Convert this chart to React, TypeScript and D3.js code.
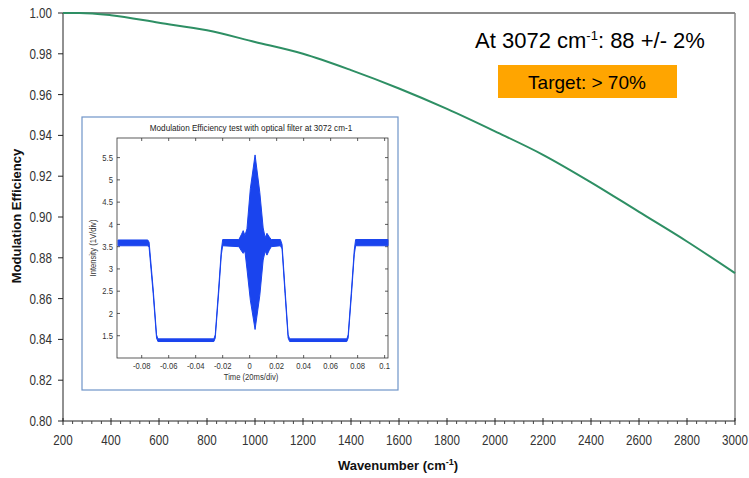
import React from 'react';
import * as d3 from 'd3';

// main curve: modulation efficiency vs wavenumber
const wavenumbers = [200, 270, 400, 600, 800, 1000, 1200, 1400, 1600, 1800, 2000, 2200, 2400, 2600, 2800, 3000];
const efficiency = [1.0, 1.0, 0.9989, 0.9952, 0.9915, 0.9858, 0.98, 0.972, 0.963, 0.953, 0.942, 0.9305, 0.917, 0.9025, 0.888, 0.8725];
const xTicks = [200, 400, 600, 800, 1000, 1200, 1400, 1600, 1800, 2000, 2200, 2400, 2600, 2800, 3000];
const yTicks = [0.8, 0.82, 0.84, 0.86, 0.88, 0.9, 0.92, 0.94, 0.96, 0.98, 1.0];

// inset: interferogram envelope (time, upper, lower)
const insetTime = [-0.0975, -0.0755, -0.0745, -0.0715, -0.069, -0.068, -0.0265, -0.0255, -0.023, -0.021, -0.02,
  -0.008, -0.006, -0.0048, -0.0035, -0.002, 0.0005, 0.004, 0.0075, 0.01, 0.0115, 0.0128, 0.0145, 0.016,
  0.0228, 0.024, 0.0262, 0.0285, 0.0296, 0.072, 0.073, 0.0755, 0.0775, 0.0785, 0.1025];
const insetUpper = [3.65, 3.65, 3.6, 2.55, 1.52, 1.43, 1.43, 1.52, 2.55, 3.42, 3.66,
  3.66, 3.78, 3.86, 3.75, 3.9, 4.8, 5.56, 4.72, 3.92, 3.7, 3.8, 3.72, 3.66,
  3.66, 3.55, 2.55, 1.52, 1.43, 1.43, 1.52, 2.55, 3.42, 3.66, 3.66];
const insetLower = [3.52, 3.52, 3.48, 2.45, 1.45, 1.37, 1.37, 1.45, 2.45, 3.32, 3.52,
  3.5, 3.4, 3.35, 3.4, 3.0, 2.3, 1.64, 2.4, 3.2, 3.4, 3.31, 3.42, 3.5,
  3.52, 3.45, 2.45, 1.45, 1.37, 1.37, 1.45, 2.45, 3.32, 3.52, 3.52];
const insetXTicks = [-0.08, -0.06, -0.04, -0.02, 0, 0.02, 0.04, 0.06, 0.08, 0.1];
const insetYTicks = [1.5, 2, 2.5, 3, 3.5, 4, 4.5, 5, 5.5];

const W = 749;
const H = 478;
const sans = '"Liberation Sans", Arial, Helvetica, sans-serif';

// condensed look of the original tick labels (no narrow font installed)
const Narrow = ({ x, y, anchor = 'middle', size = 14, sx = 0.83, fill = '#333', weight = 'normal', dy = '0', children }: any) => (
  <text transform={`translate(${x},${y}) scale(${sx},1)`} dy={dy} textAnchor={anchor} fontFamily={sans}
    fontSize={size} fontWeight={weight} fill={fill}>{children}</text>
);

export default function App() {
  const x = d3.scaleLinear().domain([200, 3000]).range([63, 735]);
  const y = d3.scaleLinear().domain([0.8, 1.0]).range([421, 13]);
  const line = d3.line<number>().x((d, i) => x(wavenumbers[i])).y(d => y(d)).curve(d3.curveMonotoneX);
  const minorTicks = d3.range(200, 3001, 40).filter(v => v % 200 !== 0);

  // inset geometry
  const ix = d3.scaleLinear().domain([-0.0983, 0.1025]).range([117, 388]);
  const iy = d3.scaleLinear().domain([1.0, 5.94]).range([358, 138]);
  const area = d3.area<number>()
    .x((d, i) => ix(insetTime[i]))
    .y0((d, i) => iy(insetLower[i]))
    .y1(d => iy(d));

  return (
    <svg width={W} height={H} style={{ position: 'absolute', left: 0, top: 0, background: '#fff' }}>
      {/* frame */}
      <line x1={63} x2={735} y1={13} y2={13} stroke="#666" strokeWidth={1.5} />
      <line x1={735} x2={735} y1={13} y2={421} stroke="#888" strokeWidth={1.5} />
      <line x1={63} x2={63} y1={13} y2={421} stroke="#222" strokeWidth={1} />
      <line x1={63} x2={735} y1={421} y2={421} stroke="#222" strokeWidth={1} />

      {/* y axis */}
      {yTicks.map(t => (
        <g key={t}>
          <line x1={58} x2={63} y1={y(t)} y2={y(t)} stroke="#222" />
          <Narrow x={52} y={y(t)} dy="0.35em" anchor="end">{t.toFixed(2)}</Narrow>
        </g>
      ))}
      {/* x axis */}
      {minorTicks.map(t => (
        <line key={t} x1={x(t)} x2={x(t)} y1={421} y2={424} stroke="#444" />
      ))}
      {xTicks.map(t => (
        <g key={t}>
          <line x1={x(t)} x2={x(t)} y1={418} y2={425} stroke="#222" />
          <Narrow x={x(t)} y={445}>{t}</Narrow>
        </g>
      ))}
      <text x={398} y={470} textAnchor="middle" fontFamily={sans} fontSize={13} fontWeight="bold" fill="#111">
        Wavenumber (cm<tspan dy={-5} fontSize={9}>-1</tspan><tspan dy={5}>)</tspan>
      </text>
      <text transform="translate(21,216) rotate(-90)" textAnchor="middle" fontFamily={sans} fontSize={13}
        fontWeight="bold" fill="#111">Modulation Efficiency</text>

      {/* curve */}
      <path d={line(efficiency) || ''} fill="none" stroke="#2e8f64" strokeWidth={2} />

      {/* annotation */}
      <text x={590} y={48} textAnchor="middle" fontFamily={sans} fontSize={22} fill="#000">
        At 3072 cm<tspan dy={-8} fontSize={13}>-1</tspan><tspan dy={8}>: 88 +/- 2%</tspan>
      </text>
      <rect x={498} y={65} width={179} height={33} fill="#ffa500" />
      <text x={587} y={89} textAnchor="middle" fontFamily={sans} fontSize={19} fill="#000">Target: &gt; 70%</text>

      {/* inset */}
      <rect x={82} y={117} width={316} height={273} fill="#fff" stroke="#6f94c8" strokeWidth={1.2} />
      <Narrow x={251} y={131} size={9.5} sx={0.86} fill="#222">
        Modulation Efficiency test with optical filter at 3072 cm-1
      </Narrow>
      <rect x={117} y={138} width={271} height={220} fill="none" stroke="#333" strokeWidth={0.8} />
      {insetXTicks.map(t => (
        <g key={t}>
          <line x1={ix(t)} x2={ix(t)} y1={358} y2={355} stroke="#333" strokeWidth={0.8} />
          <line x1={ix(t)} x2={ix(t)} y1={138} y2={141} stroke="#333" strokeWidth={0.8} />
          <Narrow x={ix(t)} y={369} size={9} sx={0.85}>{t}</Narrow>
        </g>
      ))}
      {insetYTicks.map(t => (
        <g key={t}>
          <line x1={117} x2={120} y1={iy(t)} y2={iy(t)} stroke="#333" strokeWidth={0.8} />
          <line x1={388} x2={385} y1={iy(t)} y2={iy(t)} stroke="#333" strokeWidth={0.8} />
          <Narrow x={113} y={iy(t)} dy="0.35em" anchor="end" size={9} sx={0.85}>{t}</Narrow>
        </g>
      ))}
      <Narrow x={251} y={380} size={9} sx={0.85}>Time (20ms/div)</Narrow>
      <text transform="translate(96,248) rotate(-90) scale(0.85,1)" textAnchor="middle" fontFamily={sans} fontSize={9}
        fill="#333">Intensity (1V/div)</text>
      <path d={area(insetUpper) || ''} fill="#1a44ee" stroke="#1a44ee" strokeWidth={1} strokeLinejoin="round" />
    </svg>
  );
}
